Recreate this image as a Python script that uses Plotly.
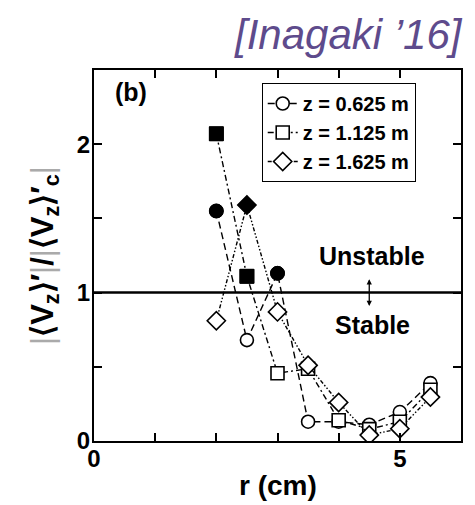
import plotly.graph_objects as go

# data
r_cm = [2.0, 2.5, 3.0, 3.5, 4.0, 4.5, 5.0, 5.5]
v_z0625 = [1.55, 0.68, 1.13, 0.13, 0.13, 0.11, 0.195, 0.39]
v_z1125 = [2.07, 1.11, 0.457, 0.487, 0.14, 0.08, 0.13, 0.345]
v_z1625 = [0.81, 1.59, 0.87, 0.51, 0.26, 0.04, 0.083, 0.296]
series_names = ["z = 0.625 m", "z = 1.125 m", "z = 1.625 m"]
series_values = [v_z0625, v_z1125, v_z1625]
symbols = ["circle", "square", "diamond"]
dashes = ["7px,4px", "6px,3px,2px,3px", "4px,2px,1.5px,2px,1.5px,2px"]
threshold = 1.0

FONT = "Liberation Sans, Arial, Helvetica, sans-serif"

fig = go.Figure()

for name, vals, sym, dash in zip(series_names, series_values, symbols, dashes):
    fig.add_trace(go.Scatter(
        x=r_cm, y=vals, mode="lines+markers", name=name,
        line=dict(color="black", width=1.4, dash=dash),
        marker=dict(symbol=sym, size=13 if sym != "diamond" else 14,
                    color="white", line=dict(color="black", width=1.6)),
    ))
for vals, sym in zip(series_values, symbols):
    fx = [x for x, v in zip(r_cm, vals) if v > threshold]
    fy = [v for v in vals if v > threshold]
    fig.add_trace(go.Scatter(
        x=fx, y=fy, mode="markers", showlegend=False,
        marker=dict(symbol=sym, size=14,
                    color="black", line=dict(color="black", width=1)),
    ))

fig.add_shape(type="line", xref="paper", x0=0, x1=1, yref="y", y0=threshold, y1=threshold,
              line=dict(color="black", width=2.5))

fig.add_annotation(x=0.1, y=0.94, xref="paper", yref="paper", text="<b>(b)</b>",
                   showarrow=False, font=dict(family=FONT, size=25, color="black"),
                   xanchor="center", yanchor="middle")
fig.add_annotation(x=4.55, y=1.25, text="<b>Unstable</b>", showarrow=False,
                   font=dict(family=FONT, size=25, color="black"))
fig.add_annotation(x=4.55, y=0.78, text="<b>Stable</b>", showarrow=False,
                   font=dict(family=FONT, size=25, color="black"))
fig.add_annotation(x=4.5, y=0.91, ax=4.5, ay=1.1, xref="x", yref="y", axref="x", ayref="y",
                   text="", showarrow=True, arrowhead=2, arrowside="end+start",
                   arrowsize=0.8, arrowwidth=1.3, arrowcolor="black")

fig.add_annotation(x=1.0, y=1.0, xref="paper", yref="paper", xshift=4, yshift=36,
                   text="<i>[Inagaki ’16]</i>", showarrow=False, xanchor="right", yanchor="middle",
                   font=dict(family=FONT, size=42, color="#5E4B8C"))

fig.add_annotation(x=0.5, y=0, xref="paper", yref="paper", yshift=-44,
                   text="<b>r (cm)</b>", showarrow=False, xanchor="center", yanchor="middle",
                   font=dict(family=FONT, size=28, color="black"))

axis_common = dict(
    ticks="inside", ticklen=8, tickwidth=1.5, tickcolor="black",
    showline=True, linecolor="black", linewidth=2, mirror="ticks",
    showgrid=False, zeroline=False,
    tickfont=dict(family=FONT, size=24, color="black", weight="bold"),
)

fig.update_layout(
    width=467, height=497,
    margin=dict(l=86, r=12, t=62, b=64),
    paper_bgcolor="white", plot_bgcolor="white",
    showlegend=True,
    legend=dict(x=0.457, y=0.965, xanchor="left", yanchor="top",
                bgcolor="white", bordercolor="black", borderwidth=1,
                font=dict(family=FONT, size=20, color="black", weight="bold"),
                tracegroupgap=0, itemwidth=30),
    xaxis=dict(range=[0, 6], tick0=0, dtick=5, ticklabelstandoff=-5,
               minor=dict(dtick=1, ticks="inside", ticklen=8, tickwidth=1.5, tickcolor="black"),
               **axis_common),
    yaxis=dict(range=[0, 2.5], tick0=0, dtick=1, ticklabelstandoff=-3,
               minor=dict(dtick=0.5, ticks="inside", ticklen=8, tickwidth=1.5, tickcolor="black"),
               title=dict(text=("<span style='color:#aaaaaa'>|</span><b>⟨V<sub>z</sub>⟩′</b>"
                                "<span style='color:#aaaaaa'>|</span><b>/</b>"
                                "<span style='color:#aaaaaa'>|</span><b>⟨V<sub>z</sub>⟩′<sub>c</sub></b>"
                                "<span style='color:#aaaaaa'>|</span>"),
                          font=dict(family=FONT, size=31, color="black"), standoff=14),
               **axis_common),
)

fig.write_html("out.html")
